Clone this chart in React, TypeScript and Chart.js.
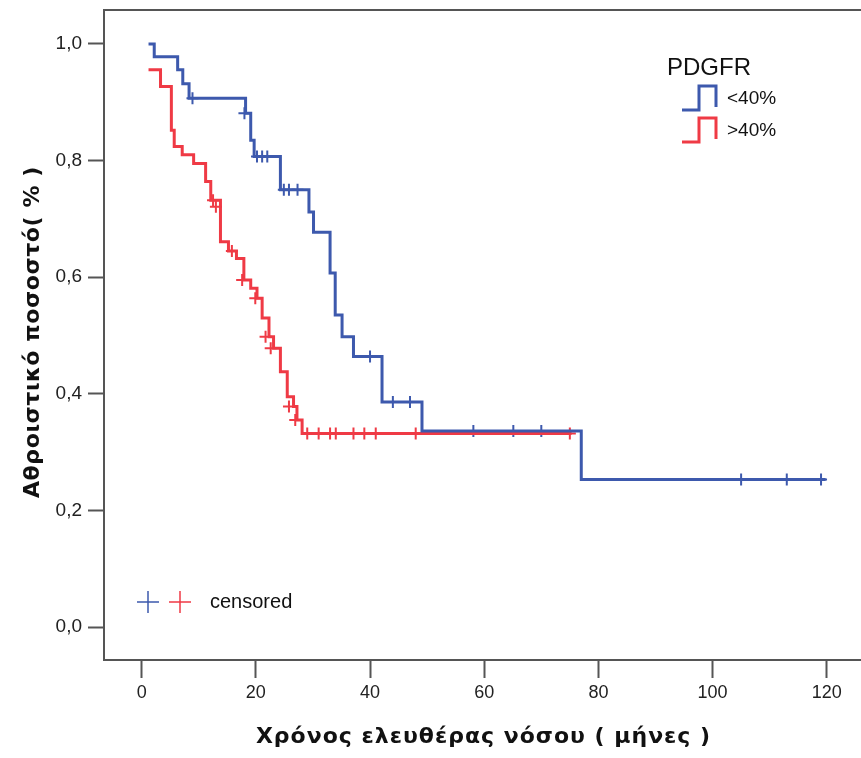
import React, { useEffect, useRef } from "react";
import { Chart, registerables } from "chart.js";

Chart.register(...registerables);

// ---- data ----
const xTickValues = [0, 20, 40, 60, 80, 100, 120];
const yTickValues = [0, 0.2, 0.4, 0.6, 0.8, 1.0];

const groupLabels = ["<40%", ">40%"];
const legendTitle = "PDGFR";
const censoredLabel = "censored";
const xTitle = "Χρόνος ελευθέρας νόσου ( μήνες )";
const yTitle = "Αθροιστικό ποσοστό( % )";

// <40% (blue) step curve: time, survival after the step
const lowTimes = [1.2, 2.2, 6.3, 7.2, 8.3, 18.2, 19.1, 19.7, 24.3, 29.3, 30.1, 33.0, 33.9, 35.1, 37.1, 42.1, 49.1, 77.0, 119.8];
const lowSurv = [1.0, 0.978, 0.956, 0.932, 0.907, 0.881, 0.835, 0.807, 0.75, 0.712, 0.677, 0.607, 0.535, 0.498, 0.464, 0.386, 0.336, 0.253, 0.253];
const lowCensorTimes = [8.9, 18.0, 20.2, 21.1, 22.0, 24.9, 25.8, 27.3, 40.0, 44.0, 47.0, 58.1, 65.1, 70.0, 105.0, 113.0, 119.0];
const lowCensorSurv = [0.907, 0.881, 0.807, 0.807, 0.807, 0.75, 0.75, 0.75, 0.464, 0.386, 0.386, 0.336, 0.336, 0.336, 0.253, 0.253, 0.253];

// >40% (red) step curve
const highTimes = [1.2, 3.3, 5.2, 5.7, 7.1, 9.1, 11.2, 12.1, 13.8, 15.2, 16.6, 17.9, 19.1, 20.2, 21.1, 22.3, 23.1, 24.3, 25.5, 26.6, 27.2, 28.1, 75.3];
const highSurv = [0.956, 0.927, 0.852, 0.824, 0.81, 0.795, 0.764, 0.732, 0.661, 0.645, 0.632, 0.595, 0.581, 0.564, 0.53, 0.498, 0.478, 0.438, 0.395, 0.378, 0.355, 0.332, 0.332];
const highCensorTimes = [12.5, 13.0, 15.8, 17.6, 19.9, 21.7, 22.6, 25.8, 26.9, 29.0, 31.0, 33.0, 34.0, 37.1, 39.0, 41.0, 48.0, 75.0];
const highCensorSurv = [0.732, 0.721, 0.645, 0.595, 0.564, 0.498, 0.478, 0.378, 0.355, 0.332, 0.332, 0.332, 0.332, 0.332, 0.332, 0.332, 0.332, 0.332];

const BLUE = "#3d59ad";
const RED = "#ef3a45";
const AXIS = "#555555";
const TITLE_FONT = "'DejaVu Sans', 'Liberation Sans', sans-serif";
const TICK_FONT = "'Liberation Sans', Arial, sans-serif";

const overlay = {
  id: "overlay",
  afterDraw(chart: any) {
    const { ctx, chartArea } = chart;
    ctx.save();
    // top frame line
    ctx.strokeStyle = AXIS;
    ctx.lineWidth = 2;
    ctx.beginPath();
    ctx.moveTo(chartArea.left - 1, chartArea.top);
    ctx.lineTo(chartArea.right, chartArea.top);
    ctx.stroke();

    // axis titles
    ctx.fillStyle = "#111";
    ctx.font = `bold 22px ${TITLE_FONT}`;
    (ctx as any).letterSpacing = "1px";
    ctx.textAlign = "center";
    ctx.textBaseline = "alphabetic";
    ctx.fillText(xTitle, (chartArea.left + chartArea.right) / 2 + 1, 743);
    (ctx as any).letterSpacing = "0.6px";
    ctx.save();
    ctx.translate(39, (chartArea.top + chartArea.bottom) / 2 - 3);
    ctx.rotate(-Math.PI / 2);
    ctx.fillText(yTitle, 0, 0);
    ctx.restore();
    (ctx as any).letterSpacing = "0px";

    // legend title
    ctx.fillStyle = "#111";
    ctx.textBaseline = "middle";
    ctx.textAlign = "left";
    ctx.font = `24px ${TICK_FONT}`;
    ctx.fillText(legendTitle, 667, 68);

    const colors = [BLUE, RED];
    const rowY = [99, 131];
    ctx.lineWidth = 3;
    ctx.lineJoin = "miter";
    for (let i = 0; i < 2; i++) {
      const yb = rowY[i] + 11;
      const yt = rowY[i] - 13;
      ctx.strokeStyle = colors[i];
      ctx.beginPath();
      ctx.moveTo(682, yb);
      ctx.lineTo(699, yb);
      ctx.lineTo(699, yt);
      ctx.lineTo(716, yt);
      ctx.lineTo(716, yb - 3);
      ctx.stroke();
      ctx.fillStyle = "#111";
      ctx.font = `19px ${TICK_FONT}`;
      ctx.fillText(groupLabels[i], 727, rowY[i]);
    }

    // censored legend
    const cy = 602;
    const cx = [148, 180];
    ctx.lineWidth = 1.5;
    for (let i = 0; i < 2; i++) {
      ctx.strokeStyle = colors[i];
      ctx.beginPath();
      ctx.moveTo(cx[i] - 11, cy);
      ctx.lineTo(cx[i] + 11, cy);
      ctx.moveTo(cx[i], cy - 11);
      ctx.lineTo(cx[i], cy + 11);
      ctx.stroke();
    }
    ctx.fillStyle = "#111";
    ctx.font = `20px ${TICK_FONT}`;
    ctx.fillText(censoredLabel, 210, cy);
    ctx.restore();
  },
};

export default function App() {
  const ref = useRef<HTMLCanvasElement | null>(null);

  useEffect(() => {
    if (!ref.current) return;
    const toPts = (xs: number[], ys: number[]) => xs.map((x, i) => ({ x, y: ys[i] }));
    const chart = new Chart(ref.current, {
      type: "line",
      data: {
        datasets: [
          {
            label: groupLabels[0],
            data: toPts(lowTimes, lowSurv),
            borderColor: BLUE,
            borderWidth: 3,
            stepped: "before",
            pointRadius: 0,
            fill: false,
          },
          {
            label: groupLabels[1],
            data: toPts(highTimes, highSurv),
            borderColor: RED,
            borderWidth: 3,
            stepped: "before",
            pointRadius: 0,
            fill: false,
          },
          {
            label: "censored-low",
            data: toPts(lowCensorTimes, lowCensorSurv),
            showLine: false,
            pointStyle: "cross",
            pointRadius: 6,
            borderColor: BLUE,
            pointBorderWidth: 2,
          },
          {
            label: "censored-high",
            data: toPts(highCensorTimes, highCensorSurv),
            showLine: false,
            pointStyle: "cross",
            pointRadius: 6,
            borderColor: RED,
            pointBorderWidth: 2,
          },
        ] as any,
      },
      options: {
        animation: false,
        responsive: false,
        devicePixelRatio: 1,
        layout: { autoPadding: false, padding: { top: 10, right: 0, left: 0, bottom: 0 } },
        plugins: { legend: { display: false }, tooltip: { enabled: false } },
        scales: {
          x: {
            type: "linear",
            min: -6.6,
            max: 126,
            afterBuildTicks: (s: any) => {
              s.ticks = xTickValues.map((v) => ({ value: v }));
            },
            afterFit: (s: any) => {
              s.height = 98;
              s.paddingLeft = 0;
              s.paddingRight = 0;
            },
            ticks: {
              color: "#222",
              font: { size: 18, family: TICK_FONT },
              padding: 4,
              maxRotation: 0,
              callback: (v: any) => String(v),
            },
            grid: { drawOnChartArea: false, drawTicks: true, tickLength: 18, tickWidth: 2, tickColor: AXIS },
            border: { display: true, color: AXIS, width: 2 },
          },
          y: {
            type: "linear",
            min: -0.0566,
            max: 1.0583,
            afterBuildTicks: (s: any) => {
              s.ticks = yTickValues.map((v) => ({ value: v }));
            },
            afterFit: (s: any) => {
              s.width = 104;
              s.paddingTop = 0;
              s.paddingBottom = 0;
            },
            ticks: {
              color: "#222",
              font: { size: 19, family: TICK_FONT },
              padding: 6,
              callback: (v: any) => Number(v).toFixed(1).replace(".", ","),
            },
            grid: { drawOnChartArea: false, drawTicks: true, tickLength: 16, tickWidth: 2, tickColor: AXIS },
            border: { display: true, color: AXIS, width: 2 },
          },
        },
      },
      plugins: [overlay],
    });
    return () => chart.destroy();
  }, []);

  return (
    <div style={{ position: "fixed", left: 0, top: 0, width: 861, height: 758, background: "#fff" }}>
      <canvas ref={ref} width={861} height={758} style={{ display: "block" }} />
    </div>
  );
}
